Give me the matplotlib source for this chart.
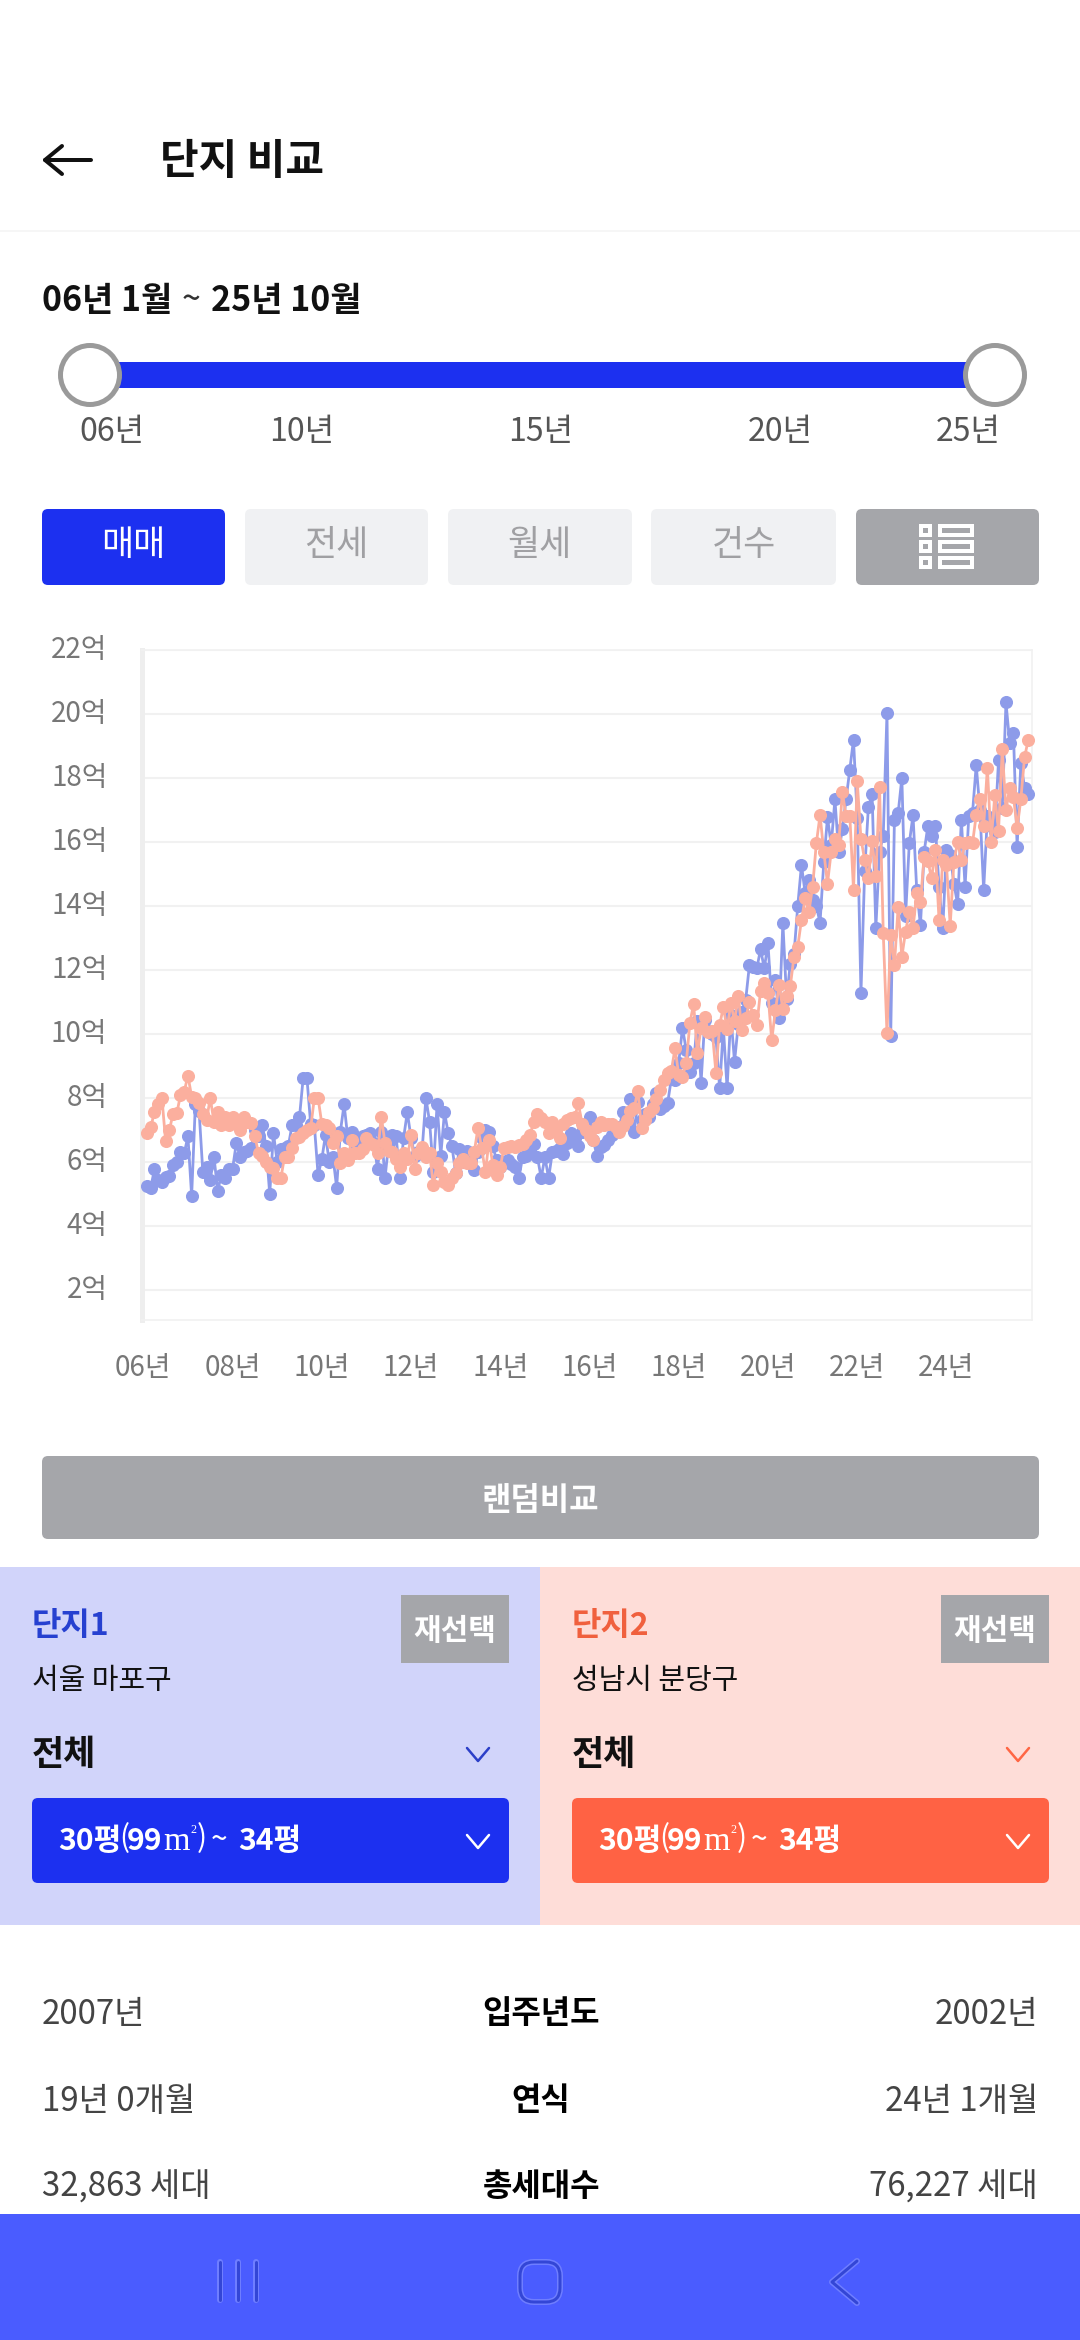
import numpy as np
import matplotlib
matplotlib.use('Agg')
import matplotlib.pyplot as plt
from matplotlib.patches import Rectangle, FancyBboxPatch, Circle
from matplotlib.transforms import ScaledTranslation

plt.rcParams['font.family'] = ['Noto Sans CJK KR', 'DejaVu Sans']

# ---- data (억 won, one value per month, 06.01 - 25.10) ----
complex1 = [
 5.26,5.2,5.77,5.44,5.39,5.54,5.56,5.9,6.0,6.32,6.27,6.8,4.94,7.8,7.6,5.7,5.85,5.44,6.17,5.1,
 5.6,5.5,5.77,5.78,6.58,6.17,6.3,6.35,6.43,7.0,6.8,7.15,6.5,5.0,6.9,6.0,6.4,6.45,6.5,7.15,
 7.17,7.4,8.63,8.63,7.2,7.15,5.6,6.08,6.85,6.0,6.17,5.2,6.95,7.8,6.75,6.95,6.6,6.55,6.8,6.85,
 6.9,6.6,5.77,6.95,5.5,6.6,6.85,6.8,5.5,6.75,7.56,6.75,6.2,6.3,6.4,8.0,7.25,5.7,7.8,6.2,
 7.56,6.9,6.5,5.65,6.4,6.0,6.35,6.0,5.75,6.3,6.75,7.0,6.95,6.5,6.05,5.85,6.0,6.05,5.95,5.85,
 5.5,6.15,6.2,6.3,6.55,6.15,5.5,6.15,5.5,6.3,6.35,6.45,6.25,6.6,6.9,6.75,6.5,6.95,7.05,7.4,
 6.7,6.19,6.48,6.53,6.69,6.85,7.05,7.1,7.57,7.2,7.97,6.93,7.89,7.3,7.5,7.4,7.8,8.15,7.66,7.75,
 7.83,8.6,8.56,9.1,10.2,9.5,8.8,9.08,10.4,8.48,10.44,10.1,10.0,9.9,8.3,10.2,8.3,10.6,9.13,10.3,
 10.7,11.06,12.15,12.1,12.05,12.65,12.05,12.83,10.96,11.7,10.5,13.48,11.1,12.2,12.5,14.0,15.28,14.4,14.8,14.2,
 14.0,13.48,15.36,16.77,15.9,17.33,15.68,16.4,17.33,18.25,19.2,16.76,11.27,15.1,17.1,17.5,13.3,15.7,16.2,20.04,
 9.94,16.7,16.9,18.0,13.7,15.96,16.84,14.5,13.4,15.7,16.5,16.2,16.5,14.6,13.3,15.75,15.6,14.7,14.05,16.7,
 14.6,16.8,16.9,18.4,17.0,14.5,16.8,16.5,16.3,18.56,17.05,20.36,19.1,19.4,15.85,18.46,17.7,17.5]
complex2 = [
 6.92,7.08,7.57,7.8,8.0,6.67,7.0,7.5,7.52,8.09,8.2,8.7,8.04,8.0,7.83,7.5,7.3,8.0,7.26,7.55,
 7.16,7.42,7.16,7.42,7.26,7.0,7.42,7.26,7.23,6.8,6.27,6.2,6.0,5.85,5.8,5.5,5.5,6.17,6.17,6.43,
 6.74,6.77,6.92,7.0,7.05,8.0,8.0,7.2,7.16,7.05,6.6,6.8,5.96,6.27,6.06,6.7,6.27,6.27,6.4,6.74,
 6.6,6.53,6.27,7.42,6.6,6.35,6.3,6.1,5.85,6.27,6.1,6.84,5.77,6.27,6.48,6.17,6.27,5.28,5.96,5.7,
 5.39,5.28,5.5,5.65,5.96,6.1,5.96,5.96,6.3,7.07,6.43,5.68,6.69,5.9,5.6,5.85,6.45,6.48,6.5,6.48,
 6.52,6.56,6.7,6.84,7.26,7.5,7.36,7.26,6.92,7.26,7.0,6.74,7.2,7.31,7.36,7.4,7.83,7.2,7.0,6.8,
 6.7,7.1,7.26,7.16,7.19,7.19,7.1,6.95,7.12,7.3,7.6,7.68,8.23,7.07,7.3,7.57,7.7,7.97,8.25,8.56,
 8.77,8.85,9.55,8.72,8.67,9.08,10.35,10.94,9.4,10.18,10.52,10.07,10.1,8.79,10.28,10.85,10.15,10.96,10.4,11.19,
 10.13,10.49,11.0,10.6,10.28,11.35,11.6,11.27,9.8,10.75,11.53,10.77,11.2,11.5,12.42,12.73,13.56,14.24,13.82,14.6,
 15.96,16.84,15.7,14.7,15.7,16.1,15.9,17.57,16.8,16.82,14.5,17.9,16.1,15.44,14.86,16.03,14.94,17.73,13.15,10.02,
 13.1,12.16,13.96,12.42,13.2,13.82,13.3,14.4,14.13,15.54,15.4,14.86,15.75,13.56,15.44,15.28,13.39,15.39,16.0,15.44,
 15.96,16.0,15.96,16.84,17.33,16.5,18.32,16.0,17.47,16.34,18.9,17.0,17.68,17.42,16.43,17.34,18.65,19.2]
year_labels = ['06년','08년','10년','12년','14년','16년','18년','20년','22년','24년']
price_ticks = [2,4,6,8,10,12,14,16,18,20,22]
price_labels = ['2억','4억','6억','8억','10억','12억','14억','16억','18억','20억','22억']
slider_labels = ['06년','10년','15년','20년','25년']
tab_labels = ['매매','전세','월세','건수']
info_rows = [('2007년','입주년도','2002년'),('19년 0개월','연식','24년 1개월'),('32,863 세대','총세대수','76,227 세대')]

BLUE='#1C30F0'; BTN='#A5A6AA'; LIGHT='#F0F1F3'; ORANGE='#FF6244'
C1='#8D9BE9'; C2='#FBAF9E'

fig = plt.figure(figsize=(10.8,23.4), dpi=100, facecolor='white')
ui = fig.add_axes([0,0,1,1], zorder=0)
ui.set_xlim(0,1080); ui.set_ylim(2340,0); ui.axis('off')

def T(x,y,s,px,color='black',weight='normal',ha='left',family=None):
    kw={'family':family} if family else {}
    ui.text(x,y+4,s,fontsize=px*0.72,color=color,fontweight=weight,ha=ha,va='center',**kw)
def R(x0,y0,x1,y1,color,z=1):
    ui.add_patch(Rectangle((x0,y0),x1-x0,y1-y0,fc=color,ec='none',zorder=z))
def RR(x0,y0,x1,y1,color,r=6,z=1):
    ui.add_patch(FancyBboxPatch((x0+r,y0+r),x1-x0-2*r,y1-y0-2*r,boxstyle=f'round,pad={r},rounding_size={r}',fc=color,ec='none',zorder=z))
def L(xs,ys,color,lw,z=3):
    ui.plot(xs,ys,color=color,lw=lw*0.72,solid_capstyle='round',solid_joinstyle='round',zorder=z)

# header
L([45,91],[160,160],'#111111',4)
L([62,45,62],[146,160,174],'#111111',4)
T(160,158,'단지 비교',42,'#111111','bold')
R(0,230,1080,232,'#F6F6F6')
T(42,297,'06년 1월',34,'#111111','bold')
T(182,296,'~',34,'#333333','normal')
T(211,297,'25년 10월',34,'#111111','bold')

# slider
R(105,362,975,388,BLUE)
for cx in (90,995):
    ui.add_patch(Circle((cx,375),29.5,fc='white',ec='#9A9A9A',lw=5*0.72,zorder=4))
for x,s in zip([112,302,541,780,968],slider_labels):
    T(x,428,s,32,'#555555','normal','center')

# tabs
tab_x=[(42,225),(245,428),(448,632),(651,836)]
for i,((a,b),s) in enumerate(zip(tab_x,tab_labels)):
    RR(a,509,b,585,BLUE if i==0 else LIGHT)
    T((a+b)/2,541,s,35,'white' if i==0 else '#A0A0A3','normal','center')
RR(856,509,1039,585,BTN)
for y0 in (524,540,556):
    R(919,y0,932,y0+13,'white',2); R(923,y0+4,928,y0+9,BTN,3)
    R(938,y0,974,y0+13,'white',2); R(942,y0+4,970,y0+9,BTN,3)

# chart
W,H=1080,2340
ax=fig.add_axes([142/W,1-1320/H,(1032-142)/W,(1320-650)/H],zorder=2)
ax.set_xlim(-0.35,239.0); ax.set_ylim(1.0625,22)
xs=np.arange(1,len(complex1)+1)
ax.plot(xs,complex1,color=C1,lw=2.0,marker='o',ms=8.4,mec=C1,mfc=C1,clip_on=False,zorder=3)
ax.plot(xs,complex2,color=C2,lw=2.0,marker='o',ms=8.4,mec=C2,mfc=C2,clip_on=False,zorder=4)
ax.set_yticks(price_ticks); ax.set_yticklabels(price_labels)
ax.set_xticks(np.arange(len(year_labels))*24); ax.set_xticklabels(year_labels)
ax.tick_params(axis='both',length=0,labelcolor='#777777',labelsize=20)
ax.tick_params(axis='y',pad=25); ax.tick_params(axis='x',pad=24)
shift=ScaledTranslation(0,4/100,fig.dpi_scale_trans)
for lab in ax.get_yticklabels():
    lab.set_transform(lab.get_transform()+shift)
ax.grid(axis='y',color='#F1F1F1',lw=1.5); ax.set_axisbelow(True)
for s in ('top','right','bottom'):
    ax.spines[s].set_color('#F1F1F1'); ax.spines[s].set_linewidth(1.2)
ax.spines['left'].set_color('#EEEEEE'); ax.spines['left'].set_linewidth(3.6)

# random button
RR(42,1456,1039,1539,BTN)
T(540,1497,'랜덤비교',32,'white','bold','center')

# panels
R(0,1567,540,1925,'#D1D4FA'); R(540,1567,1080,1925,'#FEDDD8')
for off,title,tcol,region,chev,drop in [(0,'단지1','#2640D0','서울 마포구','#2C3FC8',BLUE),
                                      (540,'단지2','#F0603E','성남시 분당구','#FF6644',ORANGE)]:
    T(32+off,1622,title,32,tcol,'bold')
    R(401+off,1595,509+off,1663,BTN)
    T(455+off,1627,'재선택',30,'white','bold','center')
    T(32+off,1677,region,29,'#111111')
    T(32+off,1750,'전체',35,'#111111','bold')
    L(np.array([467,478,489])+off,[1748,1761,1748],chev,2.5)
    RR(32+off,1798,509+off,1883,drop)
    T(58+off,1837,'30평',30,'white','bold')
    T(119+off,1835,'(',30,'white','normal')
    T(127+off,1837,'99',30,'white','bold')
    T(163+off,1838,'m',34,'white','normal',family='Liberation Serif')
    T(190+off,1826,'2',12,'white','normal',family='Liberation Serif')
    T(197+off,1835,')',30,'white','normal')
    T(211+off,1836,'~',30,'white','normal')
    T(238+off,1837,'34평',30,'white','bold')
    L(np.array([467,478,489])+off,[1835,1848,1835],'white',2.5)

# table
for y,(a,b,c) in zip([2010,2097,2183],info_rows):
    T(42,y,a,33,'#444444'); T(541,y,b,32,'black','bold','center'); T(1038,y,c,33,'#444444','normal','right')

# nav
R(0,2214,1080,2340,'#4A5CFF',5)
for x in (220,238,256):
    L([x,x],[2262,2300],'#6F7EFF',6,6)
    L([x,x],[2262,2300],'#3346D6',3,6)
for col,lw in (('#6F7EFF',6),('#3346D6',3)):
    ui.add_patch(FancyBboxPatch((532,2274),16,16,boxstyle='round,pad=12,rounding_size=14',fc='none',ec=col,lw=lw*0.72,zorder=6))
L([857,832,857],[2261,2282,2303],'#6F7EFF',6,6)
L([857,832,857],[2261,2282,2303],'#3346D6',3,6)

fig.savefig('out.png',dpi=100)
